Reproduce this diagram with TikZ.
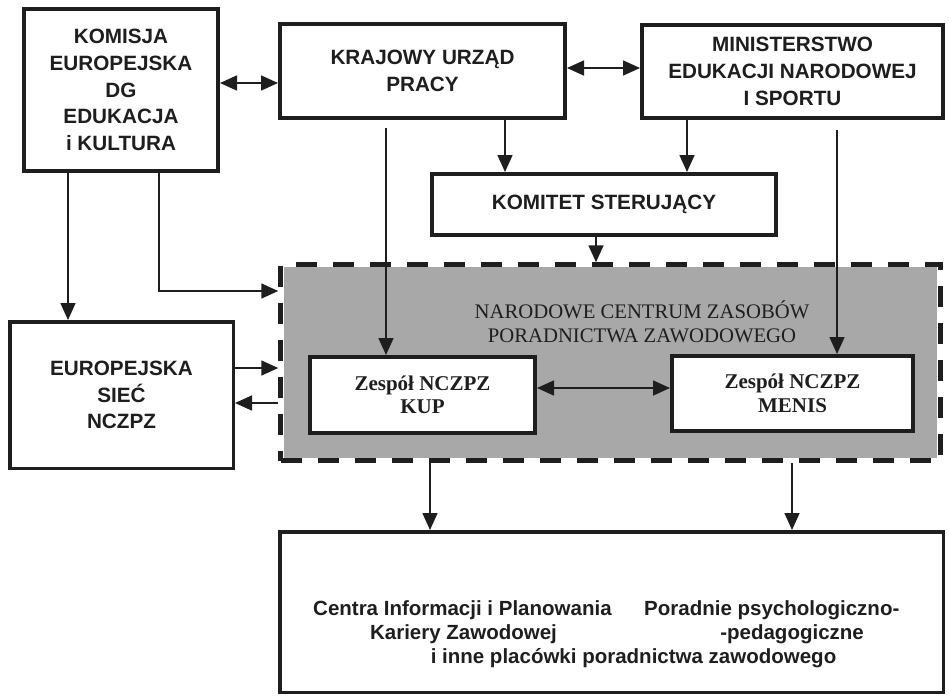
\documentclass[tikz,border=0pt]{standalone}
\usepackage{fontspec}
\setmainfont{Liberation Serif}
\newfontfamily\hv{Liberation Sans}
\usetikzlibrary{arrows.meta}
\definecolor{ink}{RGB}{30,30,30}
\definecolor{nczgray}{RGB}{168,168,168}
\begin{document}
\begin{tikzpicture}[x=1pt,y=-1pt,
  >={Triangle[length=17pt,width=15pt]},
  sbox/.style={draw=ink, line width=4pt, fill=white, inner sep=0pt, align=center, text=ink,
    font=\hv\bfseries\fontsize{20.7}{26.7}\selectfont},
  zbox/.style={draw=ink, line width=4pt, fill=white, inner sep=0pt, align=center, text=ink,
    font=\bfseries\fontsize{21}{23.5}\selectfont},
  btxt/.style={inner sep=0pt, text=ink, font=\hv\bfseries\fontsize{20.5}{24}\selectfont},
  arr/.style={draw=ink, line width=1.6pt, ->},
  dbl/.style={draw=ink, line width=1.6pt, <->}
]
\useasboundingbox (0,0) rectangle (949,697);

% top row
\node[sbox, minimum width=194pt, minimum height=162pt] (kom) at (121,90)
  {KOMISJA\\EUROPEJSKA\\DG\\EDUKACJA\\i KULTURA};
\node[sbox, minimum width=285pt, minimum height=94pt] (kra) at (422.5,71)
  {KRAJOWY URZĄD\\PRACY};
\node[sbox, minimum width=301pt, minimum height=93pt] (min) at (792.5,71.5)
  {MINISTERSTWO\\EDUKACJI NARODOWEJ\\I SPORTU};
\node[sbox, minimum width=344pt, minimum height=61pt] (kst) at (604,204.5)
  {KOMITET STERUJĄCY};

% NCZPZ dashed area
\node[draw=ink, line width=4.5pt, dash pattern=on 21pt off 16pt, inner sep=0pt,
  minimum width=660pt, minimum height=196pt] (ncz) at (610.5,362.5) {};
\fill[nczgray] ([xshift=6pt,yshift=-5pt]ncz.north west) rectangle ([xshift=-6pt,yshift=5pt]ncz.south east);
\node[text=ink, align=center, inner sep=0pt, font=\fontsize{20.7}{23.5}\selectfont] (nczt) at (642,322)
  {NARODOWE CENTRUM ZASOBÓW\\PORADNICTWA ZAWODOWEGO};
\node[zbox, minimum width=225pt, minimum height=76pt] (kup) at (422.5,395) {Zespół NCZPZ\\KUP};
\node[zbox, minimum width=241pt, minimum height=75pt] (men) at (792.5,393.5) {Zespół NCZPZ\\MENIS};

% left
\node[sbox, line width=3.5pt, minimum width=223.5pt, minimum height=146.5pt] (eur) at (121.5,395)
  {EUROPEJSKA\\SIEĆ\\NCZPZ};

% bottom
\node[draw=ink, line width=3.5pt, fill=white, inner sep=0pt,
  minimum width=663.5pt, minimum height=160.5pt] (bot) at (611.5,612) {};
\node[btxt, anchor=west] (b1) at (313,610) {Centra Informacji i Planowania};
\node[btxt, anchor=west] (b2) at (644,610) {Poradnie psychologiczno-};
\node[btxt] (b3) at (463.5,634) {Kariery Zawodowej};
\node[btxt, anchor=east] (b4) at (864,634) {-pedagogiczne};
\node[btxt] (b5) at (633.5,658) {i inne placówki poradnictwa zawodowego};

% connectors
\coordinate (s1) at (386,128);
\coordinate (s2) at (837,130);
\draw[dbl] (kom.east |- 0,83) -- (kra.west |- 0,83);
\draw[dbl] (kra.east |- 0,68) -- (min.west |- 0,68);
\draw[arr] (kra.south -| 505,0) -- (kst.north -| 505,0);
\draw[arr] (min.south -| 687,0) -- (kst.north -| 687,0);
\draw[arr] (s1) -- (kup.north -| s1);
\draw[arr] (s2) -- (men.north -| s2);
\draw[arr] (kst.south -| 596,0) -- (ncz.north -| 596,0);
\draw[arr] (kom.south -| 68,0) -- (eur.north -| 68,0);
\draw[arr] (kom.south -| 159,0) |- (ncz.west |- 0,291);
\draw[arr] (eur.east |- 0,368) -- (ncz.west |- 0,368);
\draw[arr] (ncz.west |- 0,403) -- (eur.east |- 0,403);
\draw[dbl] (kup.east |- 0,388) -- (men.west |- 0,388);
\draw[arr] (ncz.south -| 430,0) -- (bot.north -| 430,0);
\draw[arr] (ncz.south -| 792,0) -- (bot.north -| 792,0);
\end{tikzpicture}
\end{document}
